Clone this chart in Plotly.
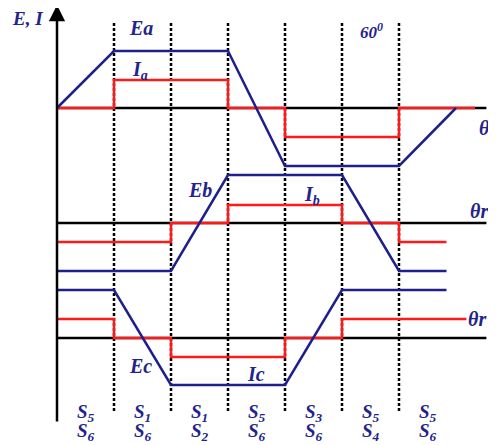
import plotly.graph_objects as go

# ---- data (angles in electrical degrees, levels) ----
theta_ea = [0, 60, 180, 240, 360, 420]
ea = [0, 57, 57, -58, -58, 0]
theta_ia = [0, 60, 60, 180, 180, 240, 240, 360, 360, 440]
ia = [0, 0, 28, 28, 0, 0, -29, -29, 0, 0]

theta_eb = [0, 120, 180, 300, 360, 410]
eb = [-48, -48, 48, 48, -48, -48]
theta_ib = [0, 120, 120, 180, 180, 300, 300, 360, 360, 410]
ib = [-19, -19, 0, 0, 18, 18, 0, 0, -19, -19]

theta_ec = [0, 60, 120, 240, 300, 410]
ec = [48, 48, -47, -47, 48, 48]
theta_ic = [0, 60, 60, 120, 120, 240, 240, 300, 300, 431]
ic = [19, 19, 0, 0, -19, -19, 0, 0, 19, 19]

phase_offsets = [0, -115, -230]
axis_end = 452
sector_bounds = [60, 120, 180, 240, 300, 360]
sector_centers = [30, 90, 150, 210, 270, 330, 390]
switch_top = ["S<sub>5</sub>", "S<sub>1</sub>", "S<sub>1</sub>", "S<sub>5</sub>",
              "S<sub>3</sub>", "S<sub>5</sub>", "S<sub>5</sub>"]
switch_bot = ["S<sub>6</sub>", "S<sub>6</sub>", "S<sub>2</sub>", "S<sub>6</sub>",
              "S<sub>6</sub>", "S<sub>4</sub>", "S<sub>6</sub>"]

BLUE = "#1f1f8c"
RED = "#ff1a1a"
TXT = "#23238a"
FONT = "Liberation Serif"

fig = go.Figure()

# baselines
for off in phase_offsets:
    fig.add_trace(go.Scatter(x=[0, axis_end], y=[off, off], mode="lines",
                             line=dict(color="black", width=2.5), hoverinfo="skip"))

# sector dashed lines
for b in sector_bounds:
    fig.add_trace(go.Scatter(x=[b, b], y=[85, -305], mode="lines",
                             line=dict(color="black", width=2.5, dash="3px,2px"),
                             hoverinfo="skip"))

def add_wave(th, vals, off, color):
    fig.add_trace(go.Scatter(x=th, y=[v + off for v in vals], mode="lines",
                             line=dict(color=color, width=2.5), hoverinfo="skip"))

add_wave(theta_ia, ia, phase_offsets[0], RED)
add_wave(theta_ea, ea, phase_offsets[0], BLUE)
add_wave(theta_ib, ib, phase_offsets[1], RED)
add_wave(theta_eb, eb, phase_offsets[1], BLUE)
add_wave(theta_ic, ic, phase_offsets[2], RED)
add_wave(theta_ec, ec, phase_offsets[2], BLUE)

# vertical axis with arrow
fig.add_annotation(x=0, y=103, ax=0, ay=-315, xref="x", yref="y", axref="x", ayref="y",
                   showarrow=True, arrowhead=2, arrowsize=1.3, arrowwidth=2.5,
                   arrowcolor="black", text="")

def label(x, y, t, size=20, xanchor="center"):
    fig.add_annotation(x=x, y=y, xref="x", yref="y", text="<b><i>" + t + "</i></b>",
                       showarrow=False, xanchor=xanchor, yanchor="middle",
                       font=dict(family=FONT, size=size, color=TXT))

label(-31, 90, "E, I", 19)
label(88, 80, "Ea")
label(87, 38, "I<sub>a</sub>")
label(331, 77, "60<sup>0</sup>", 17)
label(442, -20, "θ r", 20, "left")
label(433, -103, "θr", 20, "left")
label(431, -211, "θr", 20, "left")
label(151, -82, "Eb")
label(268, -87, "I<sub>b</sub>")
label(88, -258, "Ec")
label(209, -266, "Ic")

for cx, t, b in zip(sector_centers, switch_top, switch_bot):
    label(cx, -305, t, 19)
    label(cx, -324, b, 19)

# page body adds an 8px margin, so the figure is 8px smaller and ranges compensate
fig.update_layout(
    width=488, height=437, autosize=False,
    margin=dict(l=0, r=0, t=0, b=0),
    paper_bgcolor="white", plot_bgcolor="white",
    showlegend=False,
    xaxis=dict(range=[-51.58, 462.1], visible=False, fixedrange=True),
    yaxis=dict(range=[-337, 100], visible=False, fixedrange=True),
)

fig.write_html("out.html")
